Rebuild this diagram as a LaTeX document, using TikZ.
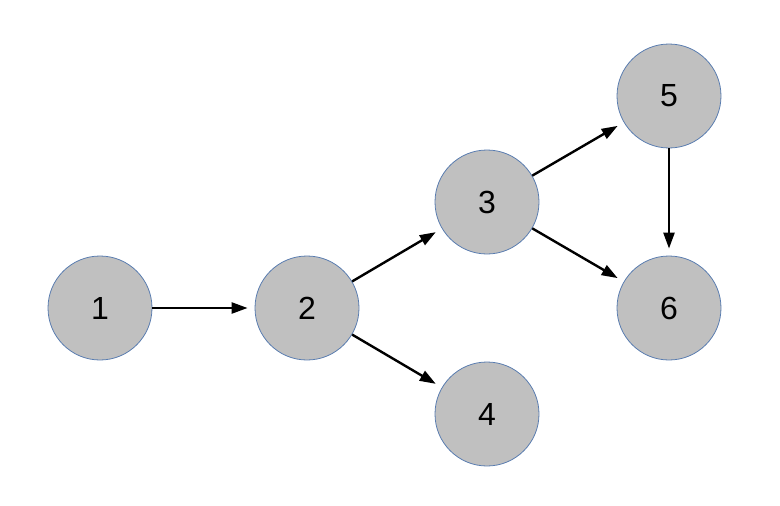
\documentclass[tikz,border=0pt]{standalone}
\usepackage{fontspec}
\setmainfont{Liberation Sans}
\usetikzlibrary{arrows.meta}
\definecolor{nodefill}{HTML}{C0C0C0}
\definecolor{nodeline}{HTML}{5A7DB0}
\begin{document}
\begin{tikzpicture}[x=1pt,y=-1pt,
  vertex/.style={circle,minimum size=104pt,inner sep=0pt,fill=nodefill,draw=nodeline,line width=0.8pt,font=\fontsize{32}{36}\selectfont},
  edge/.style={line width=2.4pt,-{Triangle[length=16pt,width=11pt]},shorten >=7pt}]
\useasboundingbox (0,0) rectangle (780,506);
\node[vertex] (n1) at (100,308) {1};
\node[vertex] (n2) at (307,308) {2};
\node[vertex] (n3) at (487,202) {3};
\node[vertex] (n4) at (487,414) {4};
\node[vertex] (n5) at (669,96) {5};
\node[vertex] (n6) at (669,308) {6};
\draw[edge] (n1) -- (n2);
\draw[edge] (n2) -- (n3);
\draw[edge] (n2) -- (n4);
\draw[edge] (n3) -- (n5);
\draw[edge] (n3) -- (n6);
\draw[edge] (n5) -- (n6);
\end{tikzpicture}
\end{document}
